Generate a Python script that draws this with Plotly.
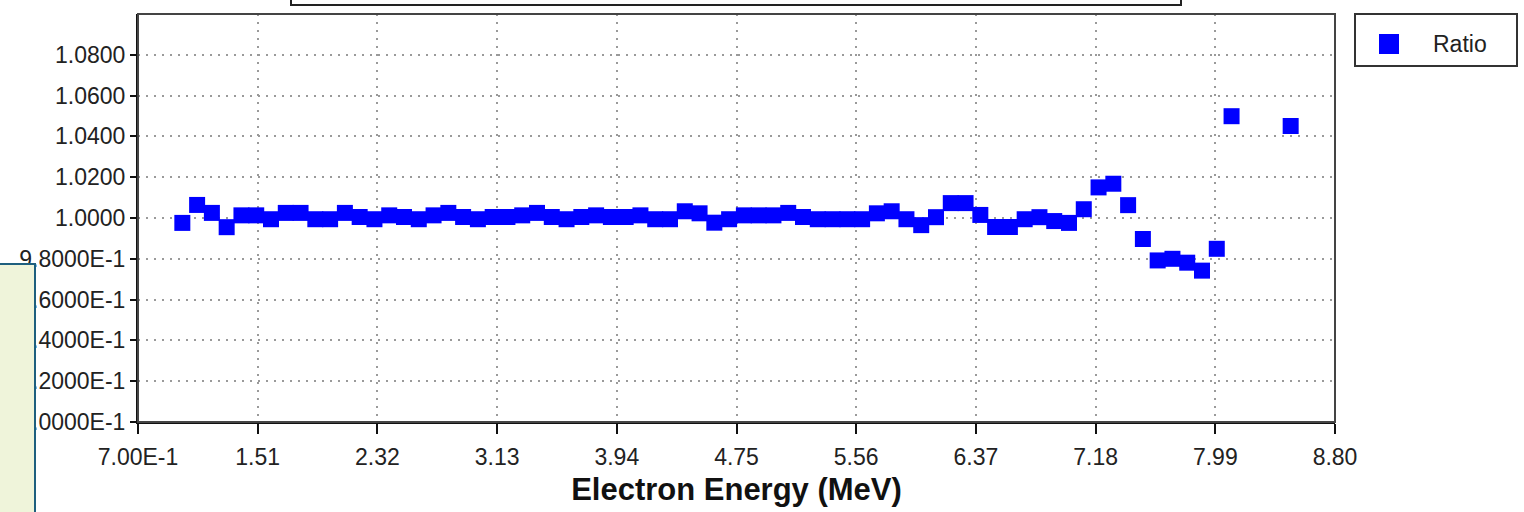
import plotly.graph_objects as go

# ---------------- data ----------------
energy = [1.0, 1.1, 1.2, 1.3, 1.4, 1.5, 1.6, 1.7, 1.8, 1.9,
          2.0, 2.1, 2.2, 2.3, 2.4, 2.5, 2.6, 2.7, 2.8, 2.9,
          3.0, 3.1, 3.2, 3.3, 3.4, 3.5, 3.6, 3.7, 3.8, 3.9,
          4.0, 4.1, 4.2, 4.3, 4.4, 4.5, 4.6, 4.7, 4.8, 4.9,
          5.0, 5.1, 5.2, 5.3, 5.4, 5.5, 5.6, 5.7, 5.8, 5.9,
          6.0, 6.1, 6.2, 6.3, 6.4, 6.5, 6.6, 6.7, 6.8, 6.9,
          7.0, 7.1, 7.2, 7.3, 7.4, 7.5, 7.6, 7.7, 7.8, 7.9,
          8.0, 8.1, 8.5]
ratio = [0.9976, 1.0064, 1.0025, 0.9955, 1.0013, 1.0013, 0.9994, 1.0025, 1.0025, 0.9994,
         0.9994, 1.0025, 1.0005, 0.9994, 1.0013, 1.0005, 0.9994, 1.0013, 1.0025, 1.0005,
         0.9994, 1.0005, 1.0005, 1.0013, 1.0025, 1.0005, 0.9994, 1.0005, 1.0013, 1.0005,
         1.0005, 1.0013, 0.9994, 0.9994, 1.0033, 1.0023, 0.9977, 0.9994, 1.0013, 1.0013,
         1.0013, 1.0025, 1.0005, 0.9994, 0.9994, 0.9994, 0.9994, 1.0023, 1.0033, 0.9994,
         0.9965, 1.0004, 1.0073, 1.0073, 1.0015, 0.9956, 0.9956, 0.9994, 1.0004, 0.9985,
         0.9976, 1.0043, 1.0150, 1.0168, 1.0063, 0.9897, 0.9792, 0.9800, 0.9781, 0.9742,
         0.9849, 1.0499, 1.0451]
series_name = "Ratio"
x_title = "Electron Energy (MeV)"
x_tick_vals = [0.70, 1.51, 2.32, 3.13, 3.94, 4.75, 5.56, 6.37, 7.18, 7.99, 8.80]
x_tick_text = ["7.00E-1", "1.51", "2.32", "3.13", "3.94", "4.75", "5.56", "6.37", "7.18", "7.99", "8.80"]
y_tick_vals = [0.90, 0.92, 0.94, 0.96, 0.98, 1.00, 1.02, 1.04, 1.06, 1.08]
y_tick_text = ["9.0000E-1", "9.2000E-1", "9.4000E-1", "9.6000E-1", "9.8000E-1",
               "1.0000", "1.0200", "1.0400", "1.0600", "1.0800"]
x_range = [0.70, 8.80]
y_range = [0.90, 1.10]

# ---------------- layout geometry ----------------
W, H = 1524, 512
L, R, T, B = 138, 189, 14, 90
PW = W - L - R
PH = H - T - B


def px(xp):
    return (xp - L) / PW


def py(yp):
    return (H - B - yp) / PH


FONT = "Liberation Sans, Arial, sans-serif"
GRID = dict(showgrid=True, gridcolor="#9a9a9a", gridwidth=1.5, griddash="2px,6px")

fig = go.Figure()
fig.add_trace(go.Scatter(
    x=energy, y=ratio, mode="markers", name=series_name, showlegend=False,
    marker=dict(symbol="square", size=16, color="#0000FF", line=dict(width=0)),
))

fig.update_layout(
    width=W, height=H,
    margin=dict(l=L, r=R, t=T, b=B, pad=0),
    paper_bgcolor="white", plot_bgcolor="white",
    font=dict(family=FONT, size=23, color="#222222"),
    xaxis=dict(
        range=x_range, tickmode="array", tickvals=x_tick_vals, ticktext=x_tick_text,
        ticks="outside", ticklen=10, tickwidth=2, tickcolor="#111111",
        showline=True, linecolor="#111111", linewidth=2, zeroline=False,
        tickfont=dict(family=FONT, size=23, color="#222222"),
        ticklabelstandoff=3,
        title=dict(text=x_title, font=dict(family=FONT, size=31, color="#111111", weight="bold"),
                   standoff=10),
        **GRID,
    ),
    xaxis2=dict(
        range=x_range, overlaying="x", anchor="y", tickmode="array", tickvals=x_tick_vals,
        ticks="inside", ticklen=9, tickwidth=2, tickcolor="#111111",
        showticklabels=False, showgrid=False, showline=False, zeroline=False,
    ),
    yaxis=dict(
        range=y_range, tickmode="array", tickvals=y_tick_vals, ticktext=y_tick_text,
        ticks="outside", ticklen=6, tickwidth=2, tickcolor="#111111",
        showline=True, linecolor="#111111", linewidth=2, zeroline=False,
        tickfont=dict(family=FONT, size=23, color="#222222"),
        ticklabelstandoff=0,
        **GRID,
    ),
)

shapes = [
    # plot frame (top/right)
    dict(type="rect", xref="paper", yref="paper", x0=0, x1=1, y0=0, y1=1,
         line=dict(color="#444444", width=2), layer="above"),
    # legend box
    dict(type="rect", xref="paper", yref="paper", x0=px(1355), x1=px(1517), y0=py(66), y1=py(14),
         line=dict(color="#333333", width=2), fillcolor="white", layer="above"),
    dict(type="rect", xref="paper", yref="paper", x0=px(1379), x1=px(1399), y0=py(54), y1=py(34),
         line=dict(width=0), fillcolor="#0000FF", layer="above"),
    # cropped title box at the top
    dict(type="rect", xref="paper", yref="paper", x0=px(291), x1=px(1181), y0=py(5), y1=py(-10),
         line=dict(color="#222222", width=2), fillcolor="white", layer="above"),
    # overlapping side panel at the lower left
    dict(type="rect", xref="paper", yref="paper", x0=px(-10), x1=px(35), y0=py(530), y1=py(264),
         line=dict(color="#1E5F7E", width=2), fillcolor="#EFF4DA", layer="above"),
]
fig.update_layout(shapes=shapes)

fig.add_annotation(
    xref="paper", yref="paper", x=px(1431), y=py(44), xanchor="left", yanchor="middle",
    text=series_name, showarrow=False, font=dict(family=FONT, size=23, color="#222222"),
)

fig.write_html("out.html")
